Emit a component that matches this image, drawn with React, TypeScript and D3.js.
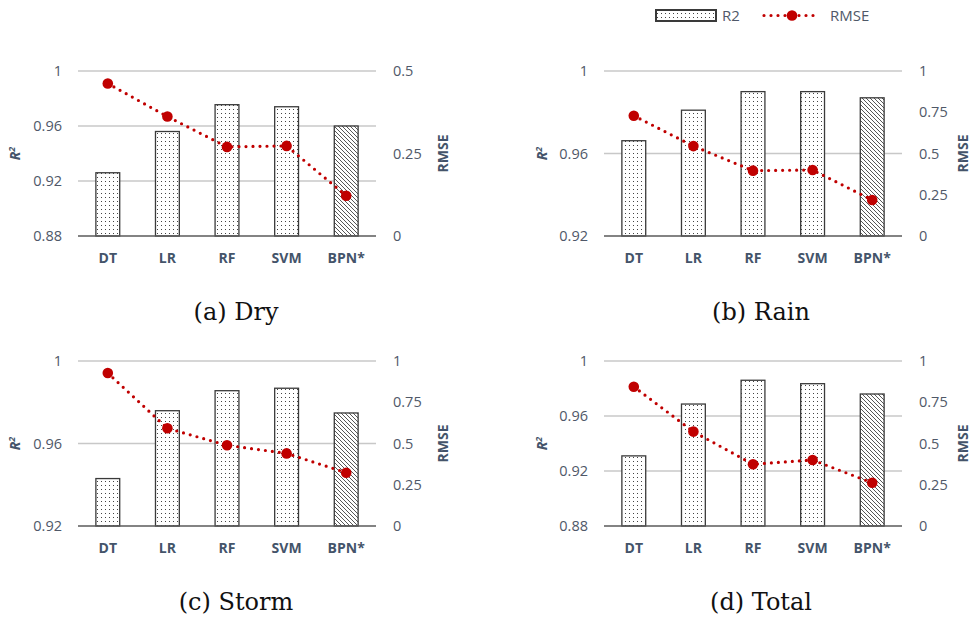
import React from 'react';
import * as d3 from 'd3';

const categories = ['DT', 'LR', 'RF', 'SVM', 'BPN*'];

// R2 and RMSE per panel
const dryR2 = [0.926, 0.956, 0.9755, 0.974, 0.96];
const dryRmse = [0.462, 0.362, 0.27, 0.273, 0.122];
const rainR2 = [0.9662, 0.981, 0.990, 0.990, 0.987];
const rainRmse = [0.729, 0.545, 0.396, 0.4, 0.218];
const stormR2 = [0.943, 0.9759, 0.9856, 0.9868, 0.9748];
const stormRmse = [0.927, 0.592, 0.489, 0.44, 0.323];
const totalR2 = [0.931, 0.9687, 0.986, 0.9835, 0.976];
const totalRmse = [0.844, 0.572, 0.374, 0.4, 0.262];

const r2TicksA = [0.88, 0.92, 0.96, 1];
const r2TicksB = [0.92, 0.96, 1];
const rmseTicksHalf = [0, 0.25, 0.5];
const rmseTicksOne = [0, 0.25, 0.5, 0.75, 1];

const panels = [
  { caption: '(a)  Dry', r2: dryR2, rmse: dryRmse, r2Ticks: r2TicksA, rmseTicks: rmseTicksHalf, left: 78, top: 71, captionX: 236, r2LabelX: 15, r2TickX: 62, rmseTickX: 393, rmseLabelX: 443 },
  { caption: '(b)  Rain', r2: rainR2, rmse: rainRmse, r2Ticks: r2TicksB, rmseTicks: rmseTicksOne, left: 604, top: 71, captionX: 761, r2LabelX: 542, r2TickX: 588, rmseTickX: 919, rmseLabelX: 963 },
  { caption: '(c)  Storm', r2: stormR2, rmse: stormRmse, r2Ticks: r2TicksB, rmseTicks: rmseTicksOne, left: 78, top: 361, captionX: 236, r2LabelX: 15, r2TickX: 62, rmseTickX: 393, rmseLabelX: 443 },
  { caption: '(d)  Total', r2: totalR2, rmse: totalRmse, r2Ticks: r2TicksA, rmseTicks: rmseTicksOne, left: 604, top: 361, captionX: 761, r2LabelX: 542, r2TickX: 588, rmseTickX: 919, rmseLabelX: 963 },
];

const W = 298;
const H = 165;
const tickColor = '#4f5868';
const labelColor = '#44546a';
const red = '#c00000';
const font = '"Open Sans", sans-serif';

const Panel = ({ p }) => {
  const x = d3.scaleBand().domain(categories).range([p.left, p.left + W]);
  const bw = x.bandwidth() * 0.4;
  const yL = d3.scaleLinear().domain([p.r2Ticks[0], 1]).range([p.top + H, p.top]);
  const yR = d3.scaleLinear().domain([0, p.rmseTicks[p.rmseTicks.length - 1]]).range([p.top + H, p.top]);
  const pts = categories.map((c, i) => [x(c) + x.bandwidth() / 2, yR(p.rmse[i])]);
  const line = d3.line();
  const midY = p.top + H / 2;
  return (
    <g>
      {p.r2Ticks.slice(1).map(t => (
        <line key={t} x1={p.left} x2={p.left + W} y1={yL(t)} y2={yL(t)} stroke="#c8c8c8" strokeWidth={1.3} />
      ))}
      {categories.map((c, i) => (
        <rect key={c} x={x(c) + (x.bandwidth() - bw) / 2} y={yL(p.r2[i])} width={bw} height={yL(p.r2Ticks[0]) - yL(p.r2[i])}
          fill={i === 4 ? 'url(#hatch)' : 'url(#dots)'} stroke="#3a3a3a" strokeWidth={1.3} />
      ))}
      <line x1={p.left} x2={p.left + W} y1={p.top + H} y2={p.top + H} stroke="#5a5a5a" strokeWidth={1.3} />
      {p.r2Ticks.map(t => (
        <text key={t} x={p.r2TickX} y={yL(t)} dy="0.35em" textAnchor="end" fontSize={14.5} fill={tickColor} fontFamily={font}>{t === 1 ? '1' : t}</text>
      ))}
      {p.rmseTicks.map(t => (
        <text key={t} x={p.rmseTickX} y={yR(t)} dy="0.35em" fontSize={14.5} fill={tickColor} fontFamily={font}>{t}</text>
      ))}
      {categories.map(c => (
        <text key={c} x={x(c) + x.bandwidth() / 2} y={p.top + H + 22} dy="0.35em" textAnchor="middle" fontSize={14} fontWeight="bold" fill={labelColor} fontFamily={font}>{c}</text>
      ))}
      <text transform={`translate(${p.r2LabelX},${midY}) rotate(-90)`} textAnchor="middle" dy="0.35em" fontSize={14} fontWeight="bold" fontStyle="italic" fill={labelColor} fontFamily={font}>
        R<tspan dy="-5" fontSize={9}>2</tspan>
      </text>
      <text transform={`translate(${p.rmseLabelX},${midY}) rotate(-90)`} textAnchor="middle" dy="0.35em" fontSize={14} fontWeight="bold" fill={labelColor} fontFamily={font}>RMSE</text>
      <path d={line(pts)} fill="none" stroke={red} strokeWidth={3.2} strokeDasharray="0 7" strokeLinecap="round" />
      {pts.map((d, i) => (
        <circle key={i} cx={d[0]} cy={d[1]} r={5.3} fill={red} />
      ))}
      <text x={p.captionX} y={p.top + 249} textAnchor="middle" fontSize={24} fill="#111" fontFamily='"DejaVu Serif", serif'>{p.caption}</text>
    </g>
  );
};

export default function App() {
  return (
    <svg width={973} height={620} style={{ position: 'absolute', left: 0, top: 0, background: '#fff' }}>
      <defs>
        <pattern id="dots" patternUnits="userSpaceOnUse" width={4} height={4}>
          <rect width={4} height={4} fill="#fff" />
          <rect x={1} y={1} width={1} height={1} fill="#444" />
        </pattern>
        <pattern id="hatch" patternUnits="userSpaceOnUse" width={4} height={4}>
          <rect width={4} height={4} fill="#fff" />
          <path d="M-1,-1 L5,5 M-1,3 L1,5 M3,-1 L5,1" stroke="#444" strokeWidth={0.9} />
        </pattern>
      </defs>
      <rect x={0} y={0} width={973} height={620} fill="#fff" />
      {/* legend */}
      <rect x={656} y={10} width={60} height={11} fill="url(#dots)" stroke="#3a3a3a" strokeWidth={2} />
      <text x={722} y={15.5} dy="0.35em" fontSize={15} fill={tickColor} fontFamily={font}>R2</text>
      <line x1={764} x2={820} y1={15.5} y2={15.5} stroke={red} strokeWidth={3.2} strokeDasharray="0 7" strokeLinecap="round" />
      <circle cx={792} cy={15.5} r={5.3} fill={red} />
      <text x={830} y={15.5} dy="0.35em" fontSize={15} fill={tickColor} fontFamily={font}>RMSE</text>
      {panels.map(p => <Panel key={p.caption} p={p} />)}
    </svg>
  );
}
